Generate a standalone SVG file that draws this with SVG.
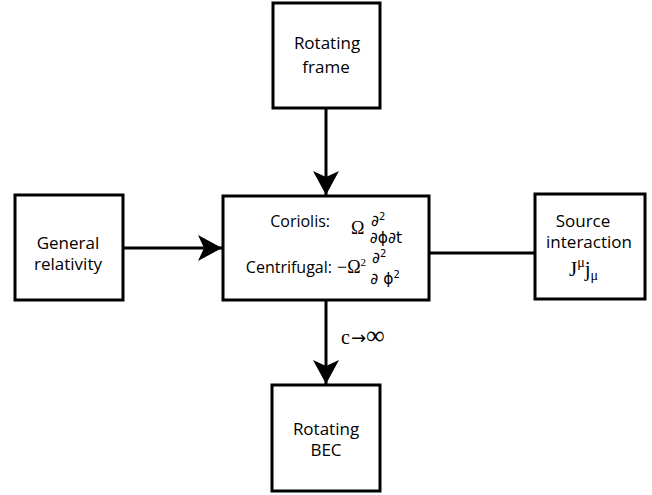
<svg xmlns="http://www.w3.org/2000/svg" width="652" height="495" viewBox="0 0 652 495">
<style>
.box{fill:#fff;stroke:#000;stroke-width:3}
.t{font-family:"Open Sans","Liberation Sans",sans-serif;font-size:17px;fill:#000;text-anchor:middle}
.s{font-family:"Open Sans","Liberation Sans",sans-serif;font-size:16px;fill:#000;text-anchor:end}
.m{font-family:"Liberation Serif","DejaVu Serif",serif;fill:#000}
.f{font-family:"DejaVu Sans","Liberation Sans",sans-serif;fill:#000;font-size:15.5px}
.c{stroke:#000;stroke-width:3;fill:none}
</style>
<defs>
<marker id="ah" viewBox="0 0 24 26" refX="24" refY="13" markerWidth="24" markerHeight="26" markerUnits="userSpaceOnUse" orient="auto">
<path d="M0,0 L24,13 L0,26 L6,13 Z" fill="#000"/>
</marker>
</defs>
<g id="connectors">
<line class="c" x1="326" y1="108" x2="326" y2="195" marker-end="url(#ah)"/>
<line class="c" x1="123" y1="248" x2="222" y2="248" marker-end="url(#ah)"/>
<line class="c" x1="429" y1="253" x2="535" y2="253"/>
<line class="c" x1="326" y1="300" x2="326" y2="384" marker-end="url(#ah)"/>
<text class="m" x="341" y="344" font-size="20">c<tspan font-family="DejaVu Sans" font-size="18" dx="1">→</tspan><tspan font-size="26">∞</tspan></text>
</g>
<g id="rotating-frame">
<rect class="box" x="273" y="3" width="107" height="105"/>
<text class="t" x="327" y="49">Rotating</text>
<text class="t" x="326" y="73">frame</text>
</g>
<g id="general-relativity">
<rect class="box" x="15" y="195" width="108" height="105"/>
<text class="t" x="68" y="249">General</text>
<text class="t" x="68" y="270">relativity</text>
</g>
<g id="center">
<rect class="box" x="223" y="196" width="206" height="104"/>
<text class="s" x="330" y="227">Coriolis:</text>
<text class="m" x="351" y="234" font-size="18">Ω</text>
<text class="f" x="371" y="226">∂<tspan font-size="10" dy="-6">2</tspan></text>
<text class="f" x="386" y="243" text-anchor="middle">∂ϕ∂t</text>
<text class="s" x="332" y="273">Centrifugal:</text>
<text class="m" x="337" y="273" font-size="18">−Ω<tspan font-size="11" dy="-7">2</tspan></text>
<text class="f" x="372" y="263">∂<tspan font-size="10" dy="-6">2</tspan></text>
<text class="f" x="385" y="284" text-anchor="middle">∂ ϕ<tspan font-size="10" dy="-6">2</tspan></text>
</g>
<g id="source-interaction">
<rect class="box" x="535" y="194" width="110" height="105"/>
<text class="t" x="583" y="227" font-size="16.5">Source</text>
<text class="t" x="589" y="248" font-size="16.5">interaction</text>
<text class="m" x="569" y="276" font-size="21">J<tspan font-size="14" dy="-9">μ</tspan><tspan dy="9">j</tspan><tspan font-size="14" dy="4">μ</tspan></text>
</g>
<g id="rotating-bec">
<rect class="box" x="272" y="385" width="108" height="106"/>
<text class="t" x="326" y="435">Rotating</text>
<text class="t" x="326" y="456">BEC</text>
</g>
</svg>
